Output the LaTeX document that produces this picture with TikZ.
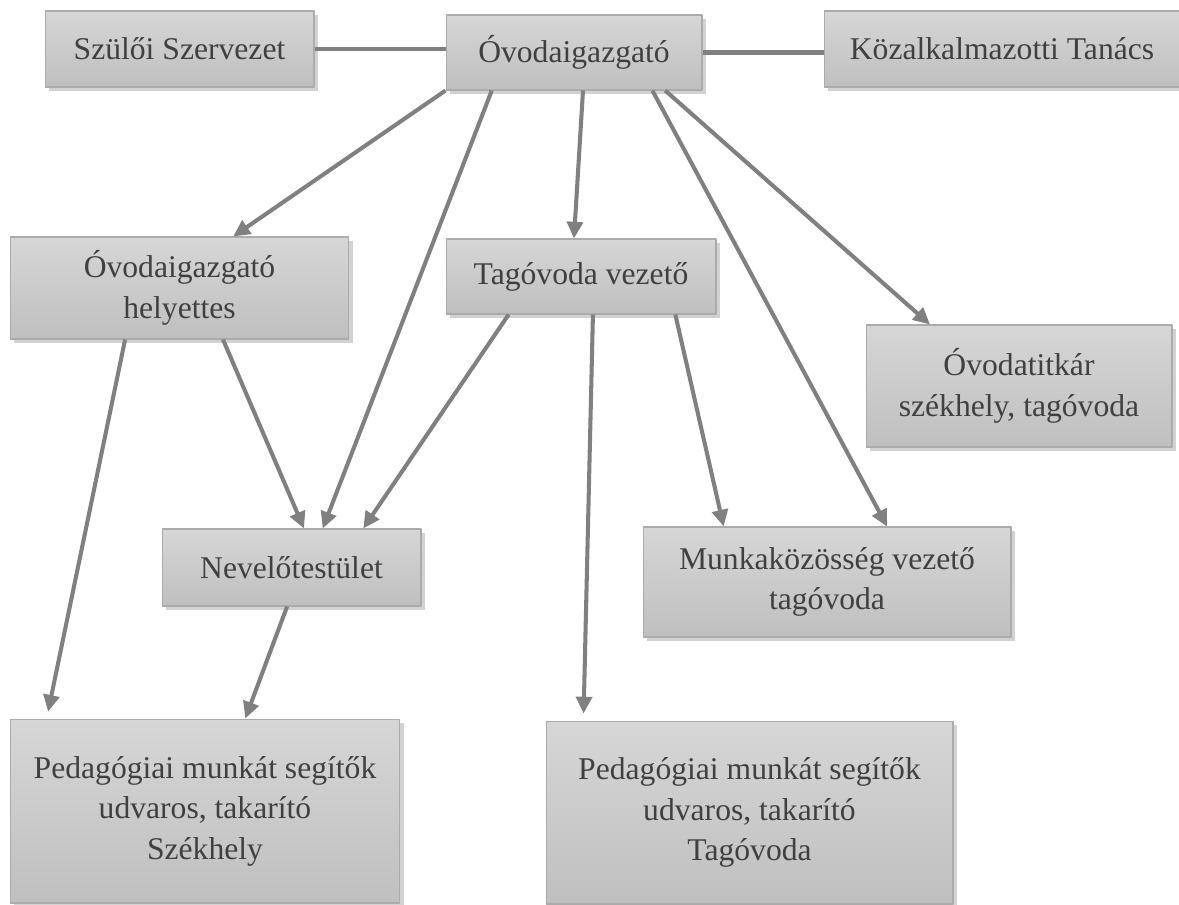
\documentclass[tikz,border=0pt]{standalone}
\usepackage{fontspec}
\setmainfont{Liberation Serif}
\usepackage{tikz}
\usetikzlibrary{arrows.meta}
\usetikzlibrary{calc}
\usetikzlibrary{shadows}

\tikzset{
  box/.style={draw=black!33, line width=0.6pt, top color=black!16, bottom color=black!25,
    text=black!75, align=center, inner sep=0pt,
    font=\fontsize{18}{23}\selectfont,
    drop shadow={opacity=0.35, shadow xshift=2.5pt, shadow yshift=-2.5pt}},
  conn/.style={draw=black!50, line width=2.3pt},
  arr/.style={conn, -{Triangle[length=9.5pt,width=9pt]}}
}

\begin{document}
\begin{tikzpicture}
    [line join=round, x=0.02cm, y=-0.02cm]
\useasboundingbox[fill=white] (0,0) rectangle (1179,904);
%top row
  \node[box, minimum width=5.38cm, minimum height=1.52cm] (szulo) at (179.5,49) {Szülői Szervezet};
  \node[box, minimum width=5.12cm, minimum height=1.50cm] (igaz) at (574,52.5) {Óvodaigazgató};
  \node[box, minimum width=7.12cm, minimum height=1.52cm] (kozalk) at (1002,49) {Közalkalmazotti Tanács};
%second row
  \node[box, minimum width=6.78cm, minimum height=2.04cm] (hely) at (179.5,288) {Óvodaigazgató\\helyettes};
  \node[box, minimum width=5.40cm, minimum height=1.50cm] (tagvez) at (581,276.5) {Tagóvoda vezető};
  \node[box, minimum width=6.12cm, minimum height=2.44cm] (titkar) at (1019,386) {Óvodatitkár\\székhely, tagóvoda};
%third row
  \node[box, minimum width=5.18cm, minimum height=1.54cm] (nevelo) at (291.5,567.5) {Nevelőtestület};
  \node[box, minimum width=7.36cm, minimum height=2.20cm] (munka) at (827,582) {Munkaközösség vezető\\tagóvoda};
%bottom row
  \node[box, minimum width=7.80cm, minimum height=3.68cm] (pedszek) at (205,811) {Pedagógiai munkát segítők\\udvaros, takarító\\Székhely};
  \node[box, minimum width=8.14cm, minimum height=3.66cm] (pedtag) at (749.5,812.5) {Pedagógiai munkát segítők\\udvaros, takarító\\Tagóvoda};

%plain lines
  \draw[conn] (szulo.east) -- (szulo.east -| igaz.west);
  \draw[conn] (igaz.east) -- (igaz.east -| kozalk.west);
%arrows from the director
  \draw[arr] (igaz.south west) -- ($(hely.north west)!.658!(hely.north east)$);
  \draw[arr] ($(igaz.south west)!.18!(igaz.south east)$) -- ($(nevelo.north west)!.62!(nevelo.north east)$);
  \draw[arr] ($(igaz.south west)!.535!(igaz.south east)$) -- ($(tagvez.north west)!.474!(tagvez.north east)$);
  \draw[arr] ($(igaz.south west)!.805!(igaz.south east)$) -- ($(munka.north west)!.663!(munka.north east)$);
  \draw[arr] ($(igaz.south west)!.855!(igaz.south east)$) -- ($(titkar.north west)!.21!(titkar.north east)$);
%arrows from the deputy
  \draw[arr, shorten >=4pt] ($(hely.south west)!.34!(hely.south east)$) -- ($(pedszek.north west)!.095!(pedszek.north east)$);
  \draw[arr] ($(hely.south west)!.628!(hely.south east)$) -- ($(nevelo.north west)!.548!(nevelo.north east)$);
%arrows from the member kindergarten head
  \draw[arr] ($(tagvez.south west)!.233!(tagvez.south east)$) -- ($(nevelo.north west)!.776!(nevelo.north east)$);
  \draw[arr, shorten >=4pt] ($(tagvez.south west)!.544!(tagvez.south east)$) -- ($(pedtag.north west)!.093!(pedtag.north east)$);
  \draw[arr] ($(tagvez.south west)!.848!(tagvez.south east)$) -- ($(munka.north west)!.22!(munka.north east)$);
%staff
  \draw[arr] ($(nevelo.south west)!.483!(nevelo.south east)$) -- ($(pedszek.north west)!.603!(pedszek.north east)$);

 \end{tikzpicture}
\end{document}
